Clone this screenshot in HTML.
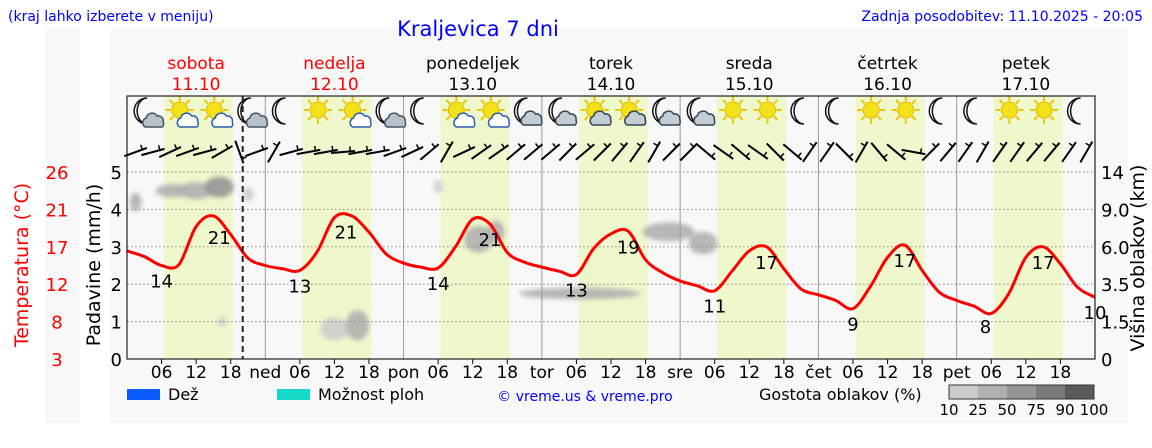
<!DOCTYPE html>
<html><head><meta charset="utf-8"><style>
body{margin:0;background:#fff;width:1152px;height:443px;overflow:hidden;font-family:"Liberation Sans","DejaVu Sans",sans-serif}
svg text{font-family:"DejaVu Sans","Liberation Sans",sans-serif}
</style></head><body>
<svg id="c" width="1152" height="443" xmlns="http://www.w3.org/2000/svg">
<defs>
<filter id="blur" x="-50%" y="-50%" width="200%" height="200%"><feGaussianBlur stdDeviation="2.5"/></filter>
</defs>
<rect x="110" y="28" width="1018" height="395" fill="#f8f8f8"/>
<rect x="45" y="28" width="35" height="395" fill="#f8f8f8"/>
<g id="bg"></g><g id="clouds" filter="url(#blur)"></g><g id="grid"></g><g id="icons"></g><g id="wind"></g><g id="temp"></g><g id="axes"></g>
<text x="8" y="21" font-size="14" fill="#0000ff">(kraj lahko izberete v meniju)</text>
<text x="478" y="36" font-size="21" fill="#0000ff" text-anchor="middle">Kraljevica 7 dni</text>
<text x="1143" y="21" font-size="14" fill="#0000ff" text-anchor="end">Zadnja posodobitev: 11.10.2025 - 20:05</text>
<text x="28" y="265" font-size="19" fill="#ff0000" text-anchor="middle" transform="rotate(-90 28 265)">Temperatura (°C)</text>
<text x="100" y="265" font-size="19" fill="#000" text-anchor="middle" transform="rotate(-90 100 265)">Padavine (mm/h)</text>
<text x="1144" y="258" font-size="19" fill="#000" text-anchor="middle" transform="rotate(-90 1144 258)">Višina oblakov (km)</text>
<rect x="127" y="389" width="33" height="11" fill="#0a5cff"/>
<text x="168" y="400" font-size="16">Dež</text>
<rect x="277" y="389" width="33" height="11" fill="#18d8c8"/>
<text x="318" y="400" font-size="16">Možnost ploh</text>
<text x="585" y="401" font-size="14" fill="#0000ff" text-anchor="middle">© vreme.us &amp; vreme.pro</text>
<text x="759" y="400" font-size="16">Gostota oblakov (%)</text>
<g id="cbar"></g>
</svg>
<script>
const NS='http://www.w3.org/2000/svg';
const dayNames=['sobota','nedelja','ponedeljek','torek','sreda','četrtek','petek'];
const dayDates=['11.10','12.10','13.10','14.10','15.10','16.10','17.10'];
const dayAbbr=['ned','pon','tor','sre','čet','pet'];
const precipTicks=[0,1,2,3,4,5];
const tempTicks=['3','8','12','17','21','26'];
const heightTicks=['0','1.5','3.5','6.0','9.0','14'];
const temps=[16.3,15.6,14.5,14.6,19.3,20.6,18.3,15.4,14.5,
14.1,13.9,16.2,20.4,20.6,18.6,15.9,14.8,
14.3,14.2,16.8,20.2,19.6,16.1,14.9,14.3,
13.8,13.4,16.6,18.4,18.7,15.2,13.6,12.6,
12.0,11.4,13.8,16.3,16.8,14.1,11.6,10.9,
10.2,9.2,11.9,15.5,17.0,13.9,11.2,10.2,
9.5,8.6,11.0,15.5,16.8,14.7,11.8,10.6];
const extremeHours=[6,16,30,38,54,63,78,87,102,111,126,135,149,159,168];
const extremeLabels=['14','21','13','21','14','21','13','19','11','17','9','17','8','17','10'];
const icons=['mc','sc','sc','mc','m','s','sc','mc','m','sc','sc','mg','mg','sg','sg','mg','mg','s','s','m','m','s','s','m','m','s','s','m'];
const windAngles=[-20,-15,-25,-20,-15,-30,70,-20,-60,-15,-10,-10,-5,-10,-10,-20,-25,-40,-60,-25,-35,-35,-40,-40,-40,-45,-40,-45,-50,-55,-60,-45,-45,40,35,40,35,45,40,-55,-55,45,-60,50,40,10,-45,-50,-55,-60,-55,-55,-50,-50,-55,-60];
// clouds: hour, level (mm units), width (h), height (mm), density (0-1)
const cloudHour=[1.5,8,12,16,21,16.5,36,40,54,61,64,78.6,94,100];
const cloudLevel=[4.2,4.5,4.5,4.6,4.4,1,0.8,0.9,4.6,3.2,3.4,1.75,3.4,3.1];
const cloudWidth=[2,6,6,5,2,1.5,5,4,1.5,5,3,21,9,5];
const cloudHeight=[0.4,0.25,0.35,0.45,0.25,0.15,0.5,0.7,0.25,0.6,0.5,0.2,0.4,0.5];
const cloudDensity=[0.3,0.3,0.45,0.55,0.2,0.1,0.1,0.4,0.2,0.45,0.3,0.3,0.35,0.45];
const x0=127,x1=1095,yTop=96,yBot=359,pxH=(x1-x0)/168,pxMM=37.4;
const X=h=>x0+h*pxH, Y=mm=>yBot-mm*pxMM, YT=t=>yBot-(t-3)/4.6*pxMM;
function el(tag,attrs,parent,txt){const e=document.createElementNS(NS,tag);for(const k in attrs)e.setAttribute(k,attrs[k]);if(txt!==undefined)e.textContent=txt;document.getElementById(parent).appendChild(e);return e;}
for(let d=0;d<7;d++){
 const r=el('rect',{x:X(d*24+6.4),y:yTop,width:12*pxH,height:yBot-yTop,fill:'#eff7cc'},'bg');
 
 
 const n=el('text',{x:X(d*24+12),y:69,'font-size':17,'text-anchor':'middle',fill:d<2?'#ff0000':'#000'},'axes',dayNames[d]);
 
 
 const dt=el('text',{x:X(d*24+12),y:90,'font-size':17,'text-anchor':'middle',fill:d<2?'#ff0000':'#000'},'axes',dayDates[d]);
 
 
 ['06','12','18'].forEach((s,i)=>{const t=el('text',{x:X(d*24+6*(i+1)),y:378,'font-size':17,'text-anchor':'middle'},'axes',s);
  
  
  el('line',{x1:X(d*24+6*(i+1)),x2:X(d*24+6*(i+1)),y1:yBot,y2:yBot+5,stroke:'#000'},'axes');});
 if(d>0){
  const l=el('line',{x1:X(d*24),x2:X(d*24),y1:yTop,y2:yBot,stroke:'#999','stroke-width':1},'grid');
  
  
  const a=el('text',{x:X(d*24),y:378,'font-size':17,'text-anchor':'middle'},'axes',dayAbbr[d-1]);
  
  
 }
}
const grays=['#cccccc','#b0b0b0','#959595','#7a7a7a','#5a5a5a'];
cloudHour.forEach((h,i)=>{
 const e=el('ellipse',{cx:X(h),cy:Y(cloudLevel[i]),rx:cloudWidth[i]*pxH/2,ry:cloudHeight[i]*pxMM/2+2,fill:grays[Math.min(4,Math.floor(cloudDensity[i]*4))],opacity:0.9},'clouds');
 
 
});
precipTicks.forEach((v,i)=>{
 if(v>0){const g=el('line',{x1:x0,x2:x1,y1:Y(v),y2:Y(v),stroke:'#888','stroke-dasharray':'1.5,2.5'},'grid');
  
  }
 const a=el('text',{x:122,y:Y(v)+7,'font-size':18,'text-anchor':'end'},'axes',String(v));
 
 
 const b=el('text',{x:57,y:Y(v)+7,'font-size':18,'text-anchor':'middle',fill:'#ff0000'},'axes',tempTicks[i]);
 
 
 const c=el('text',{x:1101,y:Y(v)+7,'font-size':18},'axes',heightTicks[i]);
 
 
});
const fr=el('rect',{x:x0,y:yTop,width:x1-x0,height:yBot-yTop,fill:'none',stroke:'#222','stroke-width':1.2},'axes');


const now=el('line',{x1:X(20.08),x2:X(20.08),y1:yTop,y2:yBot,stroke:'#222','stroke-width':2,'stroke-dasharray':'6,4'},'axes');


function sun(g,cx,cy){for(let k=0;k<8;k++){const a=k*Math.PI/4;el('line',{x1:cx+9*Math.cos(a),y1:cy+9*Math.sin(a),x2:cx+14*Math.cos(a),y2:cy+14*Math.sin(a),stroke:'#e8c800','stroke-width':2},g);}el('circle',{cx,cy,r:8,fill:'#f3e21a',stroke:'#e2b800'},g);}
function moon(g,cx,cy){el('path',{d:`M${cx+3},${cy-13} A13,13 0 1 0 ${cx+3},${cy+13} A10,13 0 1 1 ${cx+3},${cy-13}Z`,fill:'#fff',stroke:'#111','stroke-width':1.5},g);}
function cloud(g,cx,cy,fill,str){el('path',{d:`M${cx-9},${cy+6} a5,5 0 0 1 1,-9 a6,6 0 0 1 11,-2 a5,5 0 0 1 6,6 a4,4 0 0 1 -1,5Z`,fill,stroke:str,'stroke-width':1.5},g);}
icons.forEach((t,i)=>{
 const cx=X(i*6+3.5),cy=113;
 const g=el('g',{id:'ic'+i},'icons');
 
 
 if(t[0]==='s')sun('ic'+i,cx-2,cy-3);else moon('ic'+i,cx-3,cy-2);
 if(t[1]==='c')cloud('ic'+i,cx+7,cy+8,t[0]==='s'?'#fff':'#b8c0c8',t[0]==='s'?'#2a5db0':'#445566');
 if(t[1]==='g')cloud('ic'+i,cx+5,cy+6,'#c4ccd4','#334455');
});
windAngles.forEach((a,i)=>{
 const cx=X(i*3+1.5),cy=152,r=a*Math.PI/180,L=12;
 const dx=L*Math.cos(r),dy=L*Math.sin(r);
 const g=el('g',{},'wind');
 
 
 const l=document.createElementNS(NS,'line');
 [['x1',cx-dx],['y1',cy-dy],['x2',cx+dx],['y2',cy+dy],['stroke','#000'],['stroke-width',2]].forEach(p=>l.setAttribute(p[0],p[1]));g.appendChild(l);
 const t=document.createElementNS(NS,'line');
 [['x1',cx+dx*0.6],['y1',cy+dy*0.6],['x2',cx+dx*0.6+5*Math.sin(r)],['y2',cy+dy*0.6-5*Math.cos(r)],['stroke','#000'],['stroke-width',1.5]].forEach(p=>t.setAttribute(p[0],p[1]));g.appendChild(t);
});
const pts=temps.map((t,i)=>[X(i*3),YT(t)]);
let d=`M${pts[0][0]},${pts[0][1]}`;
for(let i=0;i<pts.length-1;i++){const p0=pts[Math.max(0,i-1)],p1=pts[i],p2=pts[i+1],p3=pts[Math.min(pts.length-1,i+2)];
 d+=` C${p1[0]+(p2[0]-p0[0])/6},${p1[1]+(p2[1]-p0[1])/6} ${p2[0]-(p3[0]-p1[0])/6},${p2[1]-(p3[1]-p1[1])/6} ${p2[0]},${p2[1]}`;}
const tl=el('path',{d,fill:'none',stroke:'#ff0000','stroke-width':3},'temp');


function tAt(h){const i=Math.min(55,Math.floor(h/3)),f=(h-i*3)/3;return temps[i]*(1-f)+temps[i+1]*f;}
extremeHours.forEach((h,i)=>{
 const t=el('text',{x:X(h),y:YT(tAt(h))+22,'font-size':18,'text-anchor':'middle'},'temp',extremeLabels[i]);
 
 
});
const cbLabels=['10','25','50','75','90','100'];
grays.forEach((c,i)=>{const r=el('rect',{x:949+i*29,y:385,width:29,height:14,fill:c},'cbar');
 
 });
el('rect',{x:949,y:385,width:145,height:14,fill:'none',stroke:'#333'},'cbar');
cbLabels.forEach((s,i)=>{const t=el('text',{x:949+i*29,y:415,'font-size':15,'text-anchor':'middle'},'cbar',s);
 
 });
</script>
</body></html>
